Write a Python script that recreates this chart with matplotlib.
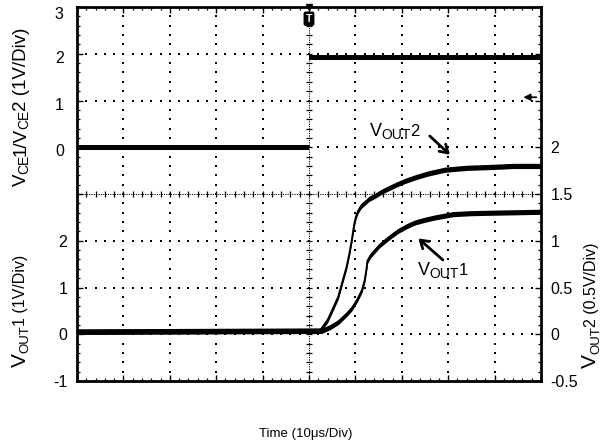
import numpy as np
import matplotlib
matplotlib.use("Agg")
import matplotlib.pyplot as plt
from matplotlib.transforms import IdentityTransform, ScaledTranslation
from matplotlib.ticker import MultipleLocator

plt.rcParams['font.family'] = ['Liberation Sans', 'DejaVu Sans']

# ---- captured waveforms (time in microseconds, trigger at t = 0) ----
t_vce = [-50.0, 0.0, 0.0, 50.0]
v_vce = [0.0, 0.0, 1.92, 1.92]                      # V_CE1 / V_CE2, 1 V/div

t_out1 = [-50.0, 2.7, 4.5, 6.3, 8.0, 9.2, 10.4, 11.4, 12.0, 12.4, 12.6, 13.3, 14.2, 15.2,
          16.4, 17.8, 19.2, 21.0, 22.8, 25.0, 27.2, 31.1, 35.0, 39.7, 45.0, 50.0]
v_out1 = [0.05, 0.07, 0.15, 0.26, 0.42, 0.55, 0.74, 0.94, 1.15, 1.40, 1.57, 1.69, 1.79, 1.90,
          2.00, 2.11, 2.21, 2.31, 2.39, 2.45, 2.50, 2.57, 2.59, 2.60, 2.61, 2.62]

t_out2 = [-50.0, 2.4, 4.0, 5.2, 6.3, 7.2, 8.1, 8.7, 9.2, 9.8, 10.2, 10.6, 11.2, 12.1, 13.0,
          14.2, 15.5, 17.1, 18.8, 20.7, 23.0, 25.7, 29.3, 34.0, 39.7, 44.0, 50.0]
v_out2 = [0.03, 0.04, 0.15, 0.28, 0.40, 0.56, 0.72, 0.86, 1.00, 1.19, 1.27, 1.32, 1.37, 1.41, 1.45,
          1.48, 1.52, 1.56, 1.60, 1.64, 1.68, 1.72, 1.76, 1.78, 1.79, 1.80, 1.80]

vce_ticks = [0, 1, 2, 3]
vout1_ticks = [-1, 0, 1, 2]
vout2_ticks = [-0.5, 0, 0.5, 1, 1.5, 2]
vout2_ticklabels = ['-0.5', '0', '0.5', '1', '1.5', '2']

W, H = 601, 446
fig = plt.figure(figsize=(W / 100, H / 100), dpi=100)
ax = fig.add_axes([77 / W, (H - 381) / H, 464 / W, 374 / H])
ax_vce = ax.twinx()
ax_v2 = ax.twinx()

# screen: 10 x 8 divisions
ax.set_xlim(-50, 50)
ax.set_ylim(-1, 7)          # V_OUT1, 1 V/div
ax_vce.set_ylim(-5, 3)      # V_CE, 1 V/div
ax_v2.set_ylim(-0.5, 3.5)   # V_OUT2, 0.5 V/div

# dotted graticule
dot_kw = dict(ls='none', marker='s', ms=1.7, mew=0, color='black', zorder=1)
ys = -1 + 0.2 * np.arange(1, 40)
for tx in [-40, -30, -20, -10, 10, 20, 30, 40]:
    ax.plot(np.full_like(ys, tx), ys, **dot_kw)
xs = -50 + 2.0 * np.arange(1, 50)
for vy in [0, 1, 2, 4, 5, 6]:
    ax.plot(xs, np.full_like(xs, vy), **dot_kw)

# centre cross with sub-division marks
ax.plot([-50, 50], [3, 3], color='black', lw=0.7, ls=(0, (1.2, 1.2)), zorder=1)
ax.plot([0, 0], [-1, 7], color='black', lw=0.7, ls=(0, (1.2, 1.2)), zorder=1)
ax.plot(xs, np.full_like(xs, 3), ls='none', marker='|', ms=5, mew=0.9, color='black', zorder=1)
ax.plot(np.zeros_like(ys), ys, ls='none', marker='_', ms=5, mew=0.9, color='black', zorder=1)

# traces: constant vertical thickness like a scope trace
def trace(a, t, v, half, lw=1.4, line=True):
    t = np.asarray(t)
    v = np.asarray(v)
    a.fill_between(t, v - half, v + half, color='black', lw=0, zorder=3)
    if line:
        a.plot(t, v, color='black', lw=lw, zorder=3, solid_capstyle='butt')

trace(ax_vce, t_vce, v_vce, 0.055, line=False)
trace(ax, t_out1, v_out1, 0.055)
trace(ax_v2, t_out2, v_out2, 0.028)

# frame and ticks
for s in ax.spines.values():
    s.set_linewidth(2.0)
for a in (ax_vce, ax_v2):
    for s in a.spines.values():
        s.set_visible(False)

ax.xaxis.set_major_locator(MultipleLocator(10))
ax.xaxis.set_minor_locator(MultipleLocator(2))
ax.set_yticks(range(-1, 8))
ax.set_yticklabels([str(v) if v in vout1_ticks else '' for v in range(-1, 8)])
ax.yaxis.set_minor_locator(MultipleLocator(0.2))
ax.set_xticklabels([])
ax.tick_params(which='major', direction='in', length=4, width=1,
               top=True, bottom=True, left=True, right=True,
               labelbottom=False, labelleft=True, labelright=False,
               labelsize=11.5, pad=7)
ax.tick_params(which='minor', direction='in', length=2.5, width=0.9,
               top=True, bottom=True, left=True, right=True)

ax_vce.yaxis.set_ticks_position('left')
ax_vce.set_yticks(vce_ticks)
ax_vce.set_yticklabels([str(v) for v in vce_ticks])
ax_vce.tick_params(axis='y', length=0, labelsize=11.5, pad=9.5,
                   labelleft=True, labelright=False)
# upper left numbers sit a little below their grid lines
for lab, v in zip(ax_vce.get_yticklabels(), vce_ticks):
    dy = -6 if v == 3 else -3
    lab.set_transform(lab.get_transform() + ScaledTranslation(0, dy / 100, fig.dpi_scale_trans))

ax_v2.set_yticks(vout2_ticks)
ax_v2.set_yticklabels(vout2_ticklabels)
ax_v2.tick_params(axis='y', length=0, labelsize=11.5, pad=7)

# trigger marker and channel reference marker
xt = ax.get_xaxis_transform()
ax.plot([0], [1.0], marker='v', ms=5, color='black', transform=xt, clip_on=False, zorder=5)
ax.text(0, 0.982, 'T', transform=xt, ha='center', va='top', color='white',
        fontsize=7.5, fontweight='bold', zorder=6,
        bbox=dict(boxstyle='round,pad=0.15', fc='black', ec='black'))
ax.annotate('', xy=(45.6, 5.07), xytext=(49.6, 5.07),
            arrowprops=dict(arrowstyle='-|>', lw=1.2, color='black', mutation_scale=10))

# mixed-size text runs placed in pixels (x, y from the top-left corner)
renderer = fig.canvas.get_renderer()

def text_run(x, y, pieces, rotation=0, gap=-0.3):
    pos = 0.0
    for s, size, drop in pieces:
        if rotation == 90:
            px, py = x + drop, H - y + pos
        else:
            px, py = x + pos, H - y - drop
        t = fig.text(px, py, s, transform=IdentityTransform(), rotation=rotation,
                     rotation_mode='anchor', ha='left', va='baseline', fontsize=size)
        ext = t.get_window_extent(renderer)
        pos += (ext.height if rotation == 90 else ext.width) + gap

text_run(25.5, 186, [('V', 13.5, 0), ('CE', 10, 3), ('1/V', 13.5, 0), ('CE', 10, 3),
                     ('2 (1V/Div)', 13.5, 0)], rotation=90, gap=-1.0)
text_run(25.5, 367, [('V', 15, 0), ('OUT', 9.5, 3), ('1 (1V/Div)', 11.5, 0)], rotation=90)
text_run(596, 368, [('V', 15, 0), ('OUT', 9.5, 3), ('2 (0.5V/Div)', 11.5, 0)], rotation=90)

# curve callouts
def to_px(a, t, v):
    dx, dy = a.transData.transform((t, v))
    return dx, H - dy

x2, y2 = to_px(ax_v2, 13.1, 2.12)
text_run(x2, y2, [('V', 13, 0), ('OUT', 10, 3), ('2', 12, 0)])
ax_v2.annotate('', xy=(30.8, 1.90), xytext=(25.6, 2.14),
               arrowprops=dict(arrowstyle='->,head_length=0.55,head_width=0.35',
                               lw=2.0, color='black'))

x1, y1 = to_px(ax, 23.5, 1.26)
text_run(x1, y1, [('V', 13, 0), ('OUT', 10, 3), ('1', 12, 0)])
ax.annotate('', xy=(23.1, 2.09), xytext=(29.3, 1.55),
            arrowprops=dict(arrowstyle='->,head_length=0.55,head_width=0.35',
                            lw=2.0, color='black'))

fig.text(306 / W, 1 - 437 / H, 'Time (10μs/Div)', ha='center', va='baseline', fontsize=9.5)

fig.savefig('out.png', dpi=100)
